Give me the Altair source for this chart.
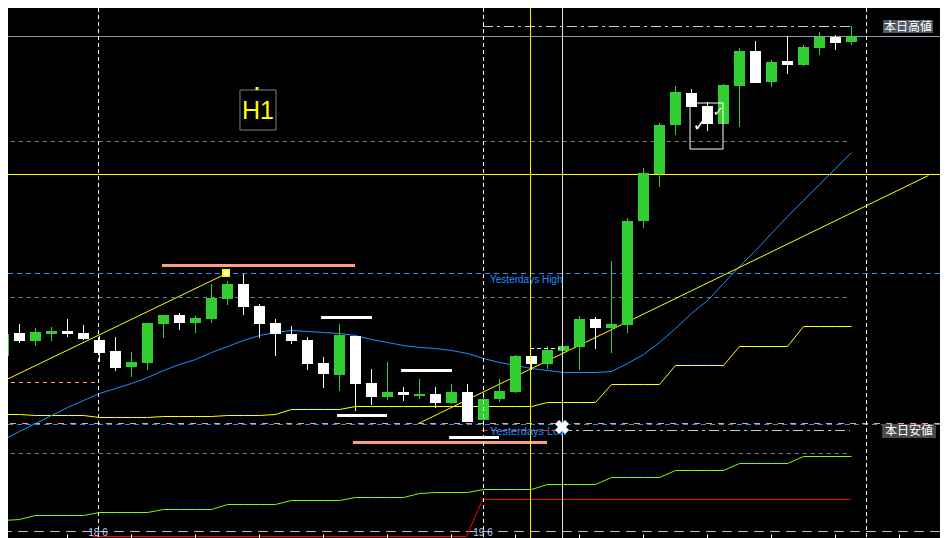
import altair as alt
import pandas as pd

# ---------------- H1 candles (bar index 0..53) ----------------
opens = [156.44,156.67,156.59,156.66,156.69,156.67,156.60,156.49,156.33,156.37,
         156.76,156.85,156.77,156.81,157.01,157.16,156.94,156.77,156.66,156.60,
         156.37,156.25,156.64,156.17,156.03,156.08,156.04,156.06,155.97,156.08,
         155.80,156.01,156.08,156.44,156.36,156.49,156.53,156.81,156.72,156.75,
         157.79,158.26,158.75,159.07,158.94,158.76,159.14,159.49,159.18,159.39,
         159.35,159.52,159.63,159.58]
closes = [156.66,156.59,156.68,156.69,156.66,156.61,156.47,156.32,156.38,156.77,
          156.85,156.77,156.82,157.02,157.16,156.93,156.76,156.66,156.59,156.36,
          156.26,156.65,156.16,156.03,156.08,156.05,156.06,155.97,156.08,155.78,
          156.01,156.09,156.44,156.36,156.50,156.54,156.81,156.72,156.76,157.79,
          158.27,158.75,159.08,158.93,158.76,159.15,159.49,159.17,159.38,159.35,
          159.53,159.63,159.57,159.64]
highs = [156.67,156.76,156.72,156.73,156.81,156.75,156.64,156.63,156.48,156.77,
         156.85,156.87,156.84,157.16,157.19,157.26,156.96,156.81,156.74,156.63,
         156.43,156.76,156.64,156.31,156.38,156.13,156.21,156.13,156.16,156.16,
         156.05,156.21,156.45,156.44,156.54,156.54,156.84,156.83,157.39,157.82,
         158.32,158.77,159.14,159.11,158.98,159.16,159.52,159.59,159.40,159.64,
         159.55,159.68,159.65,159.74]
lows = [156.41,156.57,156.54,156.59,156.63,156.60,156.38,156.29,156.23,156.30,
        156.62,156.70,156.67,156.77,156.95,156.85,156.62,156.44,156.56,156.30,
        156.12,156.09,155.89,155.95,156.00,155.99,156.01,155.92,155.96,155.78,
        155.70,155.98,156.07,156.30,156.31,156.49,156.30,156.51,156.47,156.67,
        157.72,158.13,158.65,158.93,158.69,158.76,158.73,159.17,159.13,159.26,
        159.34,159.45,159.50,159.55]

# ---------------- indicators ----------------
ma_blue = [155.61,155.69,155.77,155.85,155.93,156.00,156.07,156.12,156.17,156.23,
           156.30,156.36,156.41,156.48,156.54,156.60,156.65,156.68,156.70,156.69,
           156.68,156.67,156.65,156.61,156.58,156.55,156.53,156.52,156.50,156.47,
           156.42,156.38,156.35,156.32,156.30,156.28,156.28,156.28,156.29,156.37,
           156.46,156.58,156.72,156.87,157.00,157.17,157.34,157.50,157.67,157.84,
           158.00,158.16,158.32,158.48]
step_yellow = [155.86,155.86,155.85,155.85,155.85,155.85,155.83,155.83,155.83,155.83,
               155.84,155.84,155.84,155.84,155.85,155.85,155.85,155.86,155.91,155.91,
               155.91,155.91,155.94,155.94,155.94,155.94,155.94,155.94,155.94,155.94,
               155.94,155.94,155.94,155.94,155.98,155.98,155.98,155.98,156.16,156.16,
               156.16,156.16,156.35,156.35,156.35,156.35,156.54,156.54,156.54,156.54,
               156.74,156.74,156.74,156.74]
step_green = [154.80,154.81,154.85,154.85,154.85,154.85,154.88,154.88,154.88,154.88,
              154.91,154.91,154.91,154.91,154.96,154.96,154.96,154.96,155.00,155.00,
              155.00,155.00,155.03,155.03,155.03,155.03,155.07,155.08,155.08,155.08,
              155.11,155.11,155.11,155.11,155.16,155.16,155.16,155.16,155.23,155.23,
              155.23,155.23,155.30,155.30,155.30,155.30,155.37,155.37,155.37,155.37,
              155.44,155.44,155.44,155.44]
red_x = [5.56, 28.94, 29.94, 52.94]
red_y = [154.64, 154.64, 155.01, 155.01]

# ---------------- horizontal levels ----------------
today_high = 159.64
today_high_dd = 159.74
yellow_level = 158.26
yest_high = 157.27
yest_low = 155.76
salmon_full = 155.77
salmon_left = 156.18
low_dd = 155.70
pink_bottom = 154.69
grey_levels = [158.59, 157.03, 155.47]
salmon_zones = [(157.35, 9.94, 22.0), (155.58, 21.87, 34.0)]
white_zones = [(156.83, 19.88, 23.06), (155.85, 20.88, 24.0),
               (156.30, 24.88, 28.06), (155.63, 27.88, 31.0)]
trend1 = ([-0.19, 13.94], [156.18, 157.27])
trend2 = ([25.94, 57.81], [155.77, 158.25])

# ---------------- verticals, ticks, labels ----------------
day_sep = [5.94, 30.0, 53.94]
day_labels = ["18 6", "19 6"]
yellow_v = 32.94
white_v = 34.94
tick_idx = list(range(0, 60, 4))

XS = alt.Scale(domain=[0.3125, 58.5625], nice=False, zero=False, padding=0)
YS = alt.Scale(domain=[154.62, 159.92], nice=False, zero=False, padding=0)
JP = "Noto Sans CJK JP"


def X(f):
    return alt.X(f, type="quantitative", scale=XS, axis=None)


def Y(f):
    return alt.Y(f, type="quantitative", scale=YS, axis=None)


def level(price, color, dash=None, width=1, start=None, end=None):
    d = {"p": [price]}
    enc = dict(y=Y("p"))
    if start is not None:
        d["a"] = [start]
        d["b"] = [end]
        enc["x"] = X("a")
        enc["x2"] = alt.X2("b")
    kw = dict(color=color, strokeWidth=width, clip=True, yOffset=0.5)
    if dash:
        kw["strokeDash"] = dash
    return alt.Chart(pd.DataFrame(d)).mark_rule(**kw).encode(**enc)


def vline(idx, color, dash=None, width=1):
    kw = dict(color=color, strokeWidth=width, clip=True, xOffset=0.5)
    if dash:
        kw["strokeDash"] = dash
    return alt.Chart(pd.DataFrame({"i": idx})).mark_rule(**kw).encode(x=X("i"))


def series_line(xs, ys, color, width=1):
    df = pd.DataFrame({"i": xs, "p": ys})
    return alt.Chart(df).mark_line(color=color, strokeWidth=width, clip=True, xOffset=0.5,
                                   yOffset=0.5, interpolate="linear").encode(
        x=X("i"), y=Y("p"), order="i:Q")


def label(i, p, txt, color, size, font="Liberation Sans", align="left", baseline="middle"):
    df = pd.DataFrame({"i": [i], "p": [p], "t": [txt]})
    return alt.Chart(df).mark_text(color=color, fontSize=size, font=font, align=align,
                                   baseline=baseline, clip=False).encode(x=X("i"), y=Y("p"), text="t:N")


def box(i0, i1, p0, p1, stroke=None, fill=None, width=1):
    df = pd.DataFrame({"a": [i0], "b": [i1], "c": [p0], "d": [p1]})
    kw = dict(clip=True)
    if stroke:
        kw["stroke"] = stroke
        kw["strokeWidth"] = width
    if fill:
        kw["fill"] = fill
    else:
        kw["fillOpacity"] = 0
    return alt.Chart(df).mark_rect(**kw).encode(x=X("a"), x2=alt.X2("b"), y=Y("c"), y2=alt.Y2("d"))


idx = list(range(len(opens)))
candles = pd.DataFrame({"i": idx, "o": opens, "h": highs, "l": lows, "c": closes})
candles["col"] = ["#32cd32" if c >= o else "#ffffff" for o, c in zip(opens, closes)]

layers = []
# grid / level lines
for g in grey_levels:
    layers.append(level(g, "#7a7a7a", [4, 4], 1, -1, 52.94))
layers.append(level(pink_bottom, "#d8a8d8", [10, 6]))
layers.append(level(today_high, "#8a9bb5"))
layers.append(level(today_high_dd, "#c8c8c8", [10, 4, 3, 4], 1, 30.0, 52.94))
layers.append(level(yellow_level, "#ffff00"))
layers.append(level(yest_high, "#1e90ff", [5, 4]))
layers.append(level(salmon_left, "#ffa07a", [4, 4], 1, -1, 5.94))
layers.append(level(salmon_full, "#ffa07a", [6, 6]))
layers.append(level(yest_low, "#1e90ff", [5, 4]))
layers.append(level(low_dd, "#ff3030", [6, 4], 1, 29.9, 34.94))
layers.append(level(low_dd, "#c8c8c8", [10, 4, 3, 4], 1, 34.94, 52.94))

# indicator lines
layers.append(series_line(idx, step_green, "#7cfc00"))
layers.append(series_line(idx, step_yellow, "#ffff00"))
layers.append(series_line(idx, ma_blue, "#1e90ff"))
layers.append(series_line(red_x, red_y, "#ff0000"))
layers.append(series_line(trend1[0], trend1[1], "#ffff00"))
layers.append(series_line(trend2[0], trend2[1], "#ffff00"))

# candles
base = alt.Chart(candles)
layers.append(base.mark_rule(strokeWidth=1, clip=True, xOffset=0.5).encode(
    x=X("i"), y=Y("l"), y2=alt.Y2("h"), color=alt.Color("col:N", scale=None)))
layers.append(base.mark_bar(size=11, clip=True, xOffset=0.5).encode(
    x=X("i"), y=Y("o"), y2=alt.Y2("c"), color=alt.Color("col:N", scale=None)))

# zones
for p, a, b in salmon_zones:
    layers.append(level(p, "#ff9f80", None, 3, a, b))
for p, a, b in white_zones:
    layers.append(level(p, "#ffffff", None, 3, a, b))
layers.append(level(156.52, "#ffffff", [4, 3], 1, 32.94, 34.81))

# verticals
layers.append(vline(day_sep, "#ffffff", [4, 3]))
layers.append(vline([yellow_v], "#ffff00"))
layers.append(vline([white_v], "#e8e8e8"))

# bottom ticks
tdf = pd.DataFrame({"i": tick_idx, "a": [154.62] * len(tick_idx), "b": [154.655] * len(tick_idx)})
layers.append(alt.Chart(tdf).mark_rule(color="#ffffff", clip=True, xOffset=0.5).encode(
    x=X("i"), y=Y("a"), y2=alt.Y2("b")))

# trend point marker
layers.append(alt.Chart(pd.DataFrame({"i": [trend1[0][1]], "p": [trend1[1][1]]})).mark_square(
    size=36, color="#ffffff", stroke="#ffff00", strokeWidth=2, opacity=1, clip=True).encode(
    x=X("i"), y=Y("p")))

# H1 box
layers.append(box(14.81, 17.06, 159.10, 158.70, stroke="#7a8494"))
layers.append(label(15.94, 158.895, "H1", "#ffff00", 25, align="center"))
layers.append(alt.Chart(pd.DataFrame({"i": [15.875], "p": [159.115]})).mark_square(
    size=9, color="#ffff00", opacity=1).encode(x=X("i"), y=Y("p")))

# text labels
layers.append(label(30.44, 157.20, "Yesterdays High", "#1e90ff", 10))
layers.append(label(30.44, 155.68, "Yesterdays Low", "#1e90ff", 11))

# cross marker
layers.append(alt.Chart(pd.DataFrame({"i": [34.94], "p": [155.73]})).mark_point(
    shape="cross", angle=45, filled=True, size=200, color="#ffffff", opacity=1,
    stroke="#6aa0ff", strokeWidth=0.5).encode(x=X("i"), y=Y("p")))

# check-mark box
layers.append(box(42.94, 45.0, 158.97, 158.51, stroke="#ffffff"))
layers.append(label(43.56, 158.74, "✓", "#ffffff", 18, font="DejaVu Sans", align="center"))
layers.append(label(44.7, 158.88, "✓", "#ffffff", 13, font="DejaVu Sans", align="center"))

# right price labels
layers.append(box(54.94, 58.31, 155.76, 155.62, fill="#4a4a4a"))
layers.append(label(56.62, 155.69, "本日安値", "#ffffff", 12, font=JP, align="center"))
layers.append(box(55.0, 58.12, 159.80, 159.67, fill="#4f5862"))
layers.append(label(56.56, 159.735, "本日高値", "#ffffff", 12, font=JP, align="center"))

# date labels
ddf = pd.DataFrame({"i": day_sep[:2], "p": [154.675, 154.675], "t": day_labels})
layers.append(alt.Chart(ddf).mark_text(color="#b8d0f0", fontSize=10, font="Liberation Sans",
                                       align="center", baseline="middle").encode(
    x=X("i"), y=Y("p"), text="t:N"))

chart = alt.layer(*layers).properties(
    width=932, height=530, background="#000000", padding=0,
    autosize=alt.AutoSizeParams(type="none")
).configure_view(strokeWidth=0)

chart.save("out.html", embed_options={"renderer": "svg", "actions": False})
